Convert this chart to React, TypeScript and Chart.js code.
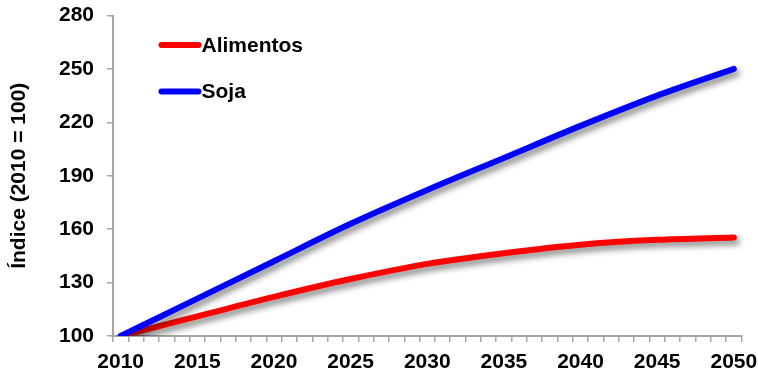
import React, { useEffect, useRef } from "react";
import { Chart, registerables } from "chart.js";

Chart.register(...registerables);

const years = [2010, 2015, 2020, 2025, 2030, 2035, 2040, 2045, 2050];
const alimentos = [100, 111, 122, 132, 140.5, 146.5, 151.3, 154, 155.3];
const soja = [100, 121, 142, 163, 182, 200, 218, 235, 250];
const categoryLabels: string[] = [];
for (let y = 2010; y <= 2050; y++) categoryLabels.push(String(y));
const yTicks = [100, 130, 160, 190, 220, 250, 280];

const FONT = "'Liberation Sans', Arial, sans-serif";
const AXIS_COLOR = "#a6a6a6";

const shadowPlugin = {
  id: "lineShadow",
  beforeDatasetDraw(chart: any) {
    const ctx = chart.ctx;
    ctx.save();
    ctx.shadowColor = "rgba(0,0,0,0.5)";
    ctx.shadowBlur = 6;
    ctx.shadowOffsetX = 3;
    ctx.shadowOffsetY = 4;
  },
  afterDatasetDraw(chart: any) {
    chart.ctx.restore();
  },
};

const legendPlugin = {
  id: "insideLegend",
  afterDraw(chart: any) {
    const ctx = chart.ctx;
    const area = chart.chartArea;
    const items = [
      { label: "Alimentos", color: "#ff0000" },
      { label: "Soja", color: "#0000ff" },
    ];
    ctx.save();
    items.forEach((it, i) => {
      const y = area.top + 29.5 + i * 46.5;
      const x0 = area.left + 48.5;
      ctx.strokeStyle = it.color;
      ctx.lineWidth = 6;
      ctx.lineCap = "round";
      ctx.beginPath();
      ctx.moveTo(x0, y);
      ctx.lineTo(x0 + 37, y);
      ctx.stroke();
      ctx.fillStyle = "#000";
      ctx.font = `bold 21px ${FONT}`;
      ctx.textBaseline = "middle";
      ctx.textAlign = "left";
      ctx.fillText(it.label, x0 + 40, y + 1);
    });
    ctx.restore();
  },
};

export default function App() {
  const ref = useRef<HTMLCanvasElement | null>(null);
  useEffect(() => {
    if (!ref.current) return;
    const chart = new Chart(ref.current, {
      type: "line",
      data: {
        labels: categoryLabels,
        datasets: [
          {
            label: "Soja",
            data: years.map((y, i) => ({ x: String(y), y: soja[i] })),
            borderColor: "#0000ff",
            backgroundColor: "#0000ff",
            borderWidth: 6,
            borderCapStyle: "round",
            pointRadius: 0,
            cubicInterpolationMode: "monotone",
          },
          {
            label: "Alimentos",
            data: years.map((y, i) => ({ x: String(y), y: alimentos[i] })),
            borderColor: "#ff0000",
            backgroundColor: "#ff0000",
            borderWidth: 6,
            borderCapStyle: "round",
            pointRadius: 0,
            cubicInterpolationMode: "monotone",
          },
        ],
      },
      options: {
        animation: false,
        responsive: true,
        maintainAspectRatio: false,
        layout: { padding: { top: 15.5, right: 16.5, left: 0, bottom: 0 } },
        plugins: {
          legend: { display: false },
          tooltip: { enabled: false },
        },
        scales: {
          x: {
            type: "category",
            offset: true,
            grid: {
              offset: true,
              drawOnChartArea: false,
              drawTicks: true,
              tickLength: 6,
              color: AXIS_COLOR,
              lineWidth: 1.5,
            },
            border: { display: true, color: AXIS_COLOR, width: 2 },
            ticks: {
              autoSkip: false,
              maxRotation: 0,
              padding: 8,
              color: "#000",
              font: { family: FONT, size: 21, weight: "bold" },
              callback: function (this: any, v: any) {
                const lab = categoryLabels[v as number];
                return Number(lab) % 5 === 0 ? lab : "";
              },
            },
            afterFit(scale: any) {
              scale.height = 37;
              scale.paddingLeft = 0;
              scale.paddingRight = 0;
            },
          },
          y: {
            min: 100,
            max: 280,
            afterBuildTicks(scale: any) {
              scale.ticks = yTicks.map((v) => ({ value: v }));
            },
            grid: {
              drawOnChartArea: false,
              drawTicks: true,
              tickLength: 6,
              color: AXIS_COLOR,
              lineWidth: 1.5,
            },
            border: { display: true, color: AXIS_COLOR, width: 2 },
            ticks: {
              padding: 13,
              color: "#000",
              font: { family: FONT, size: 21, weight: "bold" },
            },
            title: {
              display: true,
              text: "Índice (2010 = 100)",
              color: "#000",
              font: { family: FONT, size: 21, weight: "bold" },
              padding: { top: 7, bottom: 0 },
            },
            afterFit(scale: any) {
              scale.width = 113;
              scale.paddingTop = 0;
              scale.paddingBottom = 0;
            },
          },
        },
      },
      plugins: [shadowPlugin, legendPlugin],
    } as any);
    return () => chart.destroy();
  }, []);
  return (
    <div style={{ position: "fixed", left: 0, top: 0, width: 758, height: 373, background: "#fff" }}>
      <canvas ref={ref} />
    </div>
  );
}
